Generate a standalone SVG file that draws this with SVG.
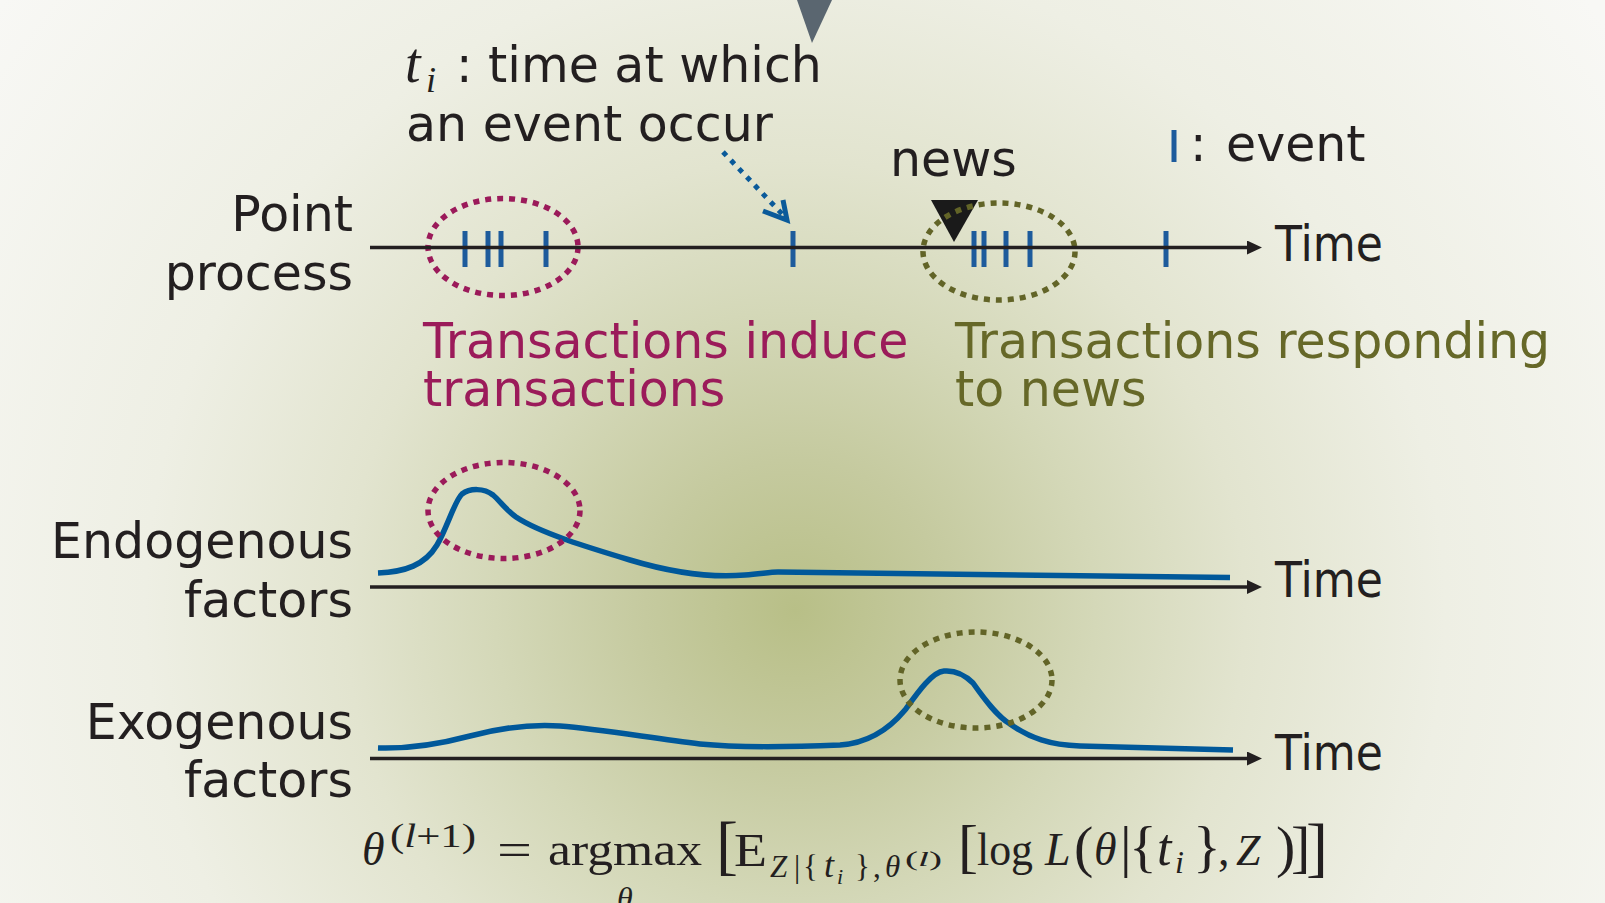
<svg xmlns="http://www.w3.org/2000/svg" width="1605" height="903" viewBox="0 0 1605 903">
  <defs>
    <radialGradient id="bg" gradientUnits="userSpaceOnUse" cx="795" cy="610" r="1000">
      <stop offset="0" stop-color="#b8bf87"/>
      <stop offset="0.15" stop-color="#c5ca9f"/>
      <stop offset="0.3" stop-color="#d4d8b8"/>
      <stop offset="0.45" stop-color="#e2e4cf"/>
      <stop offset="0.65" stop-color="#eeefe4"/>
      <stop offset="1" stop-color="#f8f8f5"/>
    </radialGradient>
    <marker id="ah" markerUnits="userSpaceOnUse" markerWidth="16" markerHeight="16" refX="3" refY="7" orient="auto">
      <path d="M0,0 L15,7 L0,14 z" fill="#231f20"/>
    </marker>
    <style>
      .lbl { font-family: "DejaVu Sans", "Noto Sans", sans-serif; font-size: 49px; fill: #231f20; }
      .red { fill: #9b1b5a; }
      .olv { fill: #666828; }
      .axis { stroke: #231f20; stroke-width: 3.5; fill: none; marker-end: url(#ah); }
      .tick { stroke: #1d5b9c; stroke-width: 5; }
      .curve { stroke: #00589a; stroke-width: 5.5; fill: none; stroke-linejoin: round; }
      .dotred { stroke: #9b1a5a; stroke-width: 5.5; fill: none; stroke-dasharray: 6 6; }
      .dotolv { stroke: #626427; stroke-width: 5.5; fill: none; stroke-dasharray: 6 6; }
      .m { font-family: "Liberation Serif", "Times New Roman", serif; fill: #231f20; }
      .it { font-style: italic; }
    </style>
  </defs>

  <rect x="0" y="0" width="1605" height="903" fill="url(#bg)"/>

  <g id="top-pointer">
    <polygon points="797,0 832,0 812,43" fill="#5a6670"/>
  </g>

  <g id="label-ti">
    <text class="m it" x="405" y="82" font-size="56">t</text>
    <text class="m it" x="426" y="92" font-size="36">i</text>
    <text class="lbl" x="456" y="82">: time at which</text>
    <text class="lbl" x="406" y="141">an event occur</text>
  </g>

  <g id="label-news">
    <text class="lbl" x="890" y="176">news</text>
    <polygon points="931,200 978,200 954,242" fill="#1a1a1a"/>
  </g>

  <g id="legend-event">
    <line class="tick" x1="1174" y1="130" x2="1174" y2="162"/>
    <text class="lbl" x="1190" y="161">:</text>
    <text class="lbl" x="1226" y="161">event</text>
  </g>

  <g id="row-point-process">
    <text class="lbl" x="353" y="231" text-anchor="end">Point</text>
    <text class="lbl" x="353" y="290" text-anchor="end">process</text>
    <text class="lbl" x="1275" y="261" textLength="108" lengthAdjust="spacingAndGlyphs">Time</text>
  </g>

  <g id="events">
    <line class="tick" x1="465" y1="231" x2="465" y2="267"/>
    <line class="tick" x1="488" y1="231" x2="488" y2="267"/>
    <line class="tick" x1="501" y1="231" x2="501" y2="267"/>
    <line class="tick" x1="546" y1="231" x2="546" y2="267"/>
    <line class="tick" x1="793" y1="231" x2="793" y2="267"/>
    <line class="tick" x1="974" y1="231" x2="974" y2="267"/>
    <line class="tick" x1="984" y1="231" x2="984" y2="267"/>
    <line class="tick" x1="1006" y1="231" x2="1006" y2="267"/>
    <line class="tick" x1="1030" y1="231" x2="1030" y2="267"/>
    <line class="tick" x1="1166" y1="231" x2="1166" y2="267"/>
  </g>

  <g id="cluster-endogenous-top">
    <ellipse class="dotred" cx="503" cy="247" rx="75" ry="48.5"/>
    <text class="lbl red" x="423" y="358">Transactions induce</text>
    <text class="lbl red" x="423" y="406">transactions</text>
  </g>

  <g id="cluster-exogenous-top">
    <ellipse class="dotolv" cx="999" cy="251.5" rx="76" ry="48.5"/>
    <text class="lbl olv" x="955" y="358">Transactions responding</text>
    <text class="lbl olv" x="955" y="406">to news</text>
  </g>

  <g id="row-endogenous">
    <text class="lbl" x="353" y="558" text-anchor="end">Endogenous</text>
    <text class="lbl" x="353" y="617" text-anchor="end">factors</text>
    <text class="lbl" x="1275" y="597" textLength="108" lengthAdjust="spacingAndGlyphs">Time</text>
    <path class="curve" d="M378,573 C405,572 425,565 437,545 C447,528 455,500 462,494 C470,488 484,488 493,495 C500,501 506,510 516,517 C540,533 590,548 630,560 C670,572 710,578 745,575 C760,574 770,572 778,572 L1230,577.5"/>
    <ellipse class="dotred" cx="504" cy="510.5" rx="76" ry="48"/>
  </g>

  <g id="row-exogenous">
    <text class="lbl" x="353" y="739" text-anchor="end">Exogenous</text>
    <text class="lbl" x="353" y="797" text-anchor="end">factors</text>
    <text class="lbl" x="1275" y="770" textLength="108" lengthAdjust="spacingAndGlyphs">Time</text>
    <path class="curve" d="M378,748 C410,749 440,744 470,736 C500,728 530,724 560,726 C600,729 650,738 700,744 C740,748 790,747 840,745 C870,743 890,728 905,710 C918,692 932,672 944,671 C956,670 966,676 973,683 C985,700 997,716 1010,724 C1030,738 1050,745 1080,746 L1233,750"/>
    <ellipse class="dotolv" cx="976" cy="680" rx="76" ry="48"/>
  </g>

  <g id="connectors">
    <line class="axis" x1="370" y1="247.5" x2="1250" y2="247.5"/>
    <line class="axis" x1="370" y1="587" x2="1250" y2="587"/>
    <line class="axis" x1="370" y1="758.5" x2="1250" y2="758.5"/>
    <line x1="723" y1="152" x2="784" y2="216" stroke="#0a5a9a" stroke-width="5" stroke-dasharray="5 6.5"/>
    <polyline points="763,211 787,220 783,200" fill="none" stroke="#0a5a9a" stroke-width="5" stroke-linejoin="miter"/>
  </g>

  <g id="formula">
    <text class="m it" x="362" y="865" font-size="46">θ</text>
    <text class="m" x="390" y="847" font-size="33" textLength="86" lengthAdjust="spacingAndGlyphs">(<tspan class="it">l</tspan>+1)</text>
    <text class="m" x="497" y="865" font-size="46" textLength="35" lengthAdjust="spacingAndGlyphs">=</text>
    <text class="m" x="548" y="865" font-size="46" textLength="154" lengthAdjust="spacingAndGlyphs">argmax</text>
    <text class="m it" x="617" y="909" font-size="32">θ</text>
    <text class="m" x="716" y="867" font-size="66">[</text>
    <text class="m" x="734" y="866" font-size="46" textLength="33" lengthAdjust="spacingAndGlyphs">E</text>
    <text class="m it" x="770" y="877" font-size="31">Z</text>
    <text class="m" x="794" y="877" font-size="31">|</text>
    <text class="m" x="803" y="877" font-size="31">{</text>
    <text class="m it" x="824" y="877" font-size="36">t</text>
    <text class="m it" x="837" y="884" font-size="22">i</text>
    <text class="m" x="855" y="877" font-size="31">}</text>
    <text class="m" x="873" y="877" font-size="31">,</text>
    <text class="m it" x="885" y="877" font-size="31">θ</text>
    <text class="m" x="905" y="866" font-size="22" textLength="37" lengthAdjust="spacingAndGlyphs">(<tspan class="it">l</tspan>)</text>
    <text class="m" x="958" y="866" font-size="60">[</text>
    <text class="m" x="977" y="865" font-size="46" textLength="56" lengthAdjust="spacingAndGlyphs">log</text>
    <text class="m it" x="1045" y="865" font-size="46">L</text>
    <text class="m" x="1074" y="866" font-size="58">(</text>
    <text class="m it" x="1094" y="865" font-size="46">θ</text>
    <text class="m" x="1120" y="866" font-size="58">|</text>
    <text class="m" x="1129" y="866" font-size="58">{</text>
    <text class="m it" x="1157" y="865" font-size="52">t</text>
    <text class="m it" x="1175" y="873" font-size="32">i</text>
    <text class="m" x="1193" y="866" font-size="58">}</text>
    <text class="m" x="1218" y="865" font-size="46">,</text>
    <text class="m it" x="1236" y="865" font-size="44">Z</text>
    <text class="m" x="1276" y="866" font-size="58">)</text>
    <text class="m" x="1291" y="866" font-size="58">]</text>
    <text class="m" x="1306" y="869" font-size="66">]</text>
  </g>
</svg>
